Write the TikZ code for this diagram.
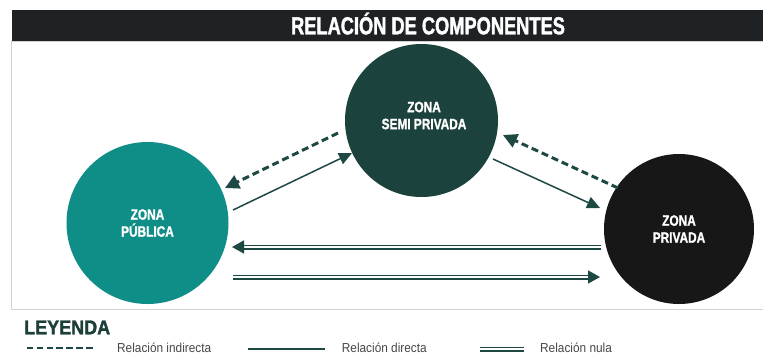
\documentclass[tikz,border=0pt]{standalone}
\usepackage{fontspec}
\setmainfont{Liberation Sans}
\newfontfamily\titlefont[FakeStretch=0.742,FakeBold=1.5]{Liberation Sans Bold}
\newfontfamily\zonefont[FakeStretch=0.79,FakeBold=1.2]{Liberation Sans Bold}
\newfontfamily\leyfont[FakeStretch=0.9,FakeBold=1.5]{Liberation Sans Bold}
\newfontfamily\legfont[FakeStretch=0.91]{Liberation Sans}
\usetikzlibrary{arrows.meta,calc}
\definecolor{barcol}{HTML}{1E2225}
\definecolor{framecol}{HTML}{D2D2D2}
\definecolor{pubcol}{HTML}{0F8E88}
\definecolor{semicol}{HTML}{1C423D}
\definecolor{privcol}{HTML}{171717}
\definecolor{arrcol}{HTML}{1E4843}
\definecolor{leycol}{HTML}{1D3F3A}
\definecolor{legtext}{HTML}{474747}
\tikzset{
  zone/.style={circle, inner sep=0pt, draw=none, text=white, align=center,
    font=\zonefont\fontsize{15}{17}\selectfont},
  zonetext/.style={text=white, align=center, inner sep=0pt,
    font=\zonefont\fontsize{15}{17}\selectfont},
  titletext/.style={text=white, anchor=base, inner sep=0pt,
    font=\titlefont\fontsize{24.6}{28}\selectfont},
  leytext/.style={text=leycol, anchor=base west, inner sep=0pt,
    font=\leyfont\fontsize{20}{24}\selectfont},
  legtxt/.style={text=legtext, anchor=base west, inner sep=0pt,
    font=\legfont\fontsize{13}{15}\selectfont},
  directa/.style={draw=arrcol, line width=1.5pt},
  indirecta/.style={draw=arrcol, line width=3pt, dash pattern=on 7pt off 4pt},
  nula/.style={draw=arrcol, line width=1.5pt, double=white, double distance=2pt},
  dtip/.style={-{Triangle[length=13pt,width=12pt]}},
  itip/.style={-{Triangle[length=14pt,width=14pt]}},
  ntip/.style={-{Triangle[length=12pt,width=13pt]}},
}
\begin{document}
\begin{tikzpicture}[x=1pt,y=-1pt]
\useasboundingbox (0,0) rectangle (763,360);
\fill[white] (0,0) rectangle (763,360);
% title bar and frame
\fill[barcol] (11.5,10) rectangle (763,40.7);
\draw[framecol, line width=1pt] (11.5,41.2) -- (763,41.2);
\draw[framecol, line width=1pt] (11.5,41.2) -- (11.5,309) -- (763,309);
\node[titletext] (title) at (428,34.3) {RELACIÓN DE COMPONENTES};
% zones
\node[zone, fill=pubcol, minimum size=162pt] (pub) at (147.5,223) {ZONA\\PÚBLICA};
\node[zone, fill=semicol, minimum size=153pt] (semi) at (421.5,120.5) {};
\node[zonetext] (semit) at (424,115.5) {ZONA\\SEMI PRIVADA};
\node[zone, fill=privcol, minimum size=150pt] (priv) at (679,229) {ZONA\\PRIVADA};
% connectors
\draw[indirecta, itip] ($(semi)+(-83.5,12.5)$) -- ($(pub)+(77.5,-35)$);
\draw[directa, dtip] ($(pub)+(85.5,-13)$) -- ($(semi)+(-69.5,32.5)$);
\draw[directa, dtip] ($(semi)+(71.5,38.5)$) -- ($(priv)+(-79,-21)$);
\draw[indirecta, itip] ($(priv)+(-61,-41)$) -- ($(semi)+(81.5,14.5)$);
\draw[nula, ntip] ($(priv)+(-78,18)$) -- ($(pub)+(84.5,24)$);
\draw[nula, ntip] ($(pub)+(85.5,54)$) -- ($(priv)+(-79,48)$);
% legend
\node[leytext] (ley) at (24,334.3) {LEYENDA};
\draw[draw=arrcol, line width=2.3pt, dash pattern=on 6.5pt off 3.4pt] (26.7,347.7) -- (92.7,347.7);
\node[legtxt] (l1) at (117,352.7) {Relación indirecta};
\draw[directa] (248,349) -- (325,349);
\node[legtxt] (l2) at (341.7,352.7) {Relación directa};
\draw[nula] (480,349) -- (524,349);
\node[legtxt] (l3) at (540,352.7) {Relación nula};
\end{tikzpicture}
\end{document}
